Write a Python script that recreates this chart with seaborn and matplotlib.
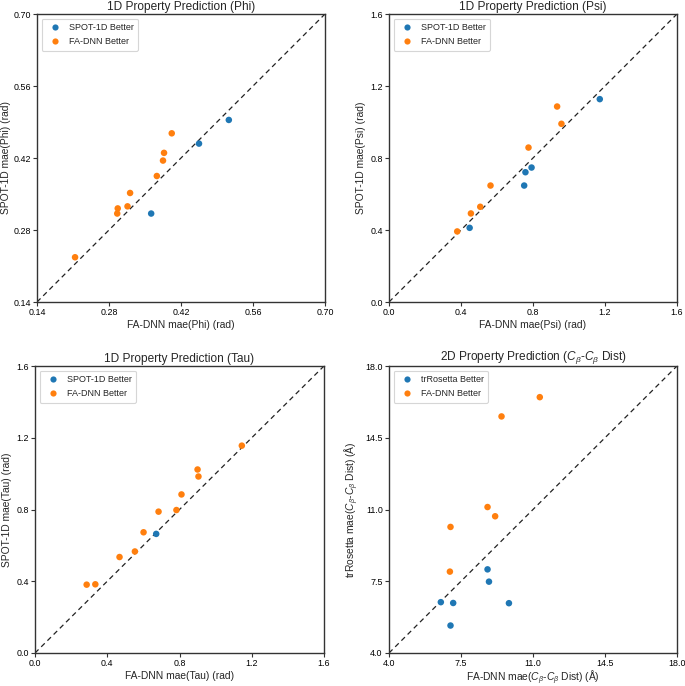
import matplotlib
matplotlib.use("Agg")
import matplotlib.pyplot as plt
import seaborn as sns
import pandas as pd

# ---- data ----
phi_fa_x = [0.214, 0.296, 0.297, 0.316, 0.321, 0.373, 0.385, 0.387, 0.402]
phi_fa_y = [0.227, 0.312, 0.322, 0.326, 0.352, 0.385, 0.415, 0.430, 0.468]
phi_sp_x = [0.362, 0.455, 0.513]
phi_sp_y = [0.312, 0.448, 0.494]

psi_fa_x = [0.379, 0.455, 0.507, 0.564, 0.775, 0.934, 0.958]
psi_fa_y = [0.392, 0.492, 0.529, 0.647, 0.858, 1.086, 0.990]
psi_sp_x = [0.448, 0.751, 0.758, 0.792, 1.171]
psi_sp_y = [0.412, 0.647, 0.721, 0.747, 1.127]

tau_fa_x = [0.286, 0.334, 0.468, 0.553, 0.601, 0.684, 0.783, 0.811, 0.900, 0.905, 1.145]
tau_fa_y = [0.381, 0.383, 0.535, 0.566, 0.673, 0.788, 0.797, 0.884, 1.023, 0.984, 1.156]
tau_sp_x = [0.671]
tau_sp_y = [0.664]

cb_fa_x = [6.96, 6.99, 8.79, 9.16, 9.47, 11.33]
cb_fa_y = [7.97, 10.15, 11.12, 10.67, 15.54, 16.48]
cb_tr_x = [6.52, 7.12, 6.99, 8.79, 8.86, 9.83]
cb_tr_y = [6.48, 6.44, 5.34, 8.08, 7.48, 6.43]

phi_ticks = [0.14, 0.28, 0.42, 0.56, 0.70]
psi_ticks = [0.0, 0.4, 0.8, 1.2, 1.6]
tau_ticks = [0.0, 0.4, 0.8, 1.2, 1.6]
cb_ticks = [4.0, 7.5, 11.0, 14.5, 18.0]

sns.set_style("ticks")
plt.rcParams['font.family'] = ['Liberation Sans', 'DejaVu Sans']
plt.rcParams['mathtext.fontset'] = 'custom'
plt.rcParams['mathtext.it'] = 'Liberation Sans:italic'
plt.rcParams['mathtext.rm'] = 'Liberation Sans'

fig = plt.figure(figsize=(6.85, 6.86), dpi=100)
W, H = 685, 686
def pos(l, t, r, b):
    return [l / W, 1 - b / H, (r - l) / W, (b - t) / H]

panels = [
    (pos(37, 14, 325, 302), phi_sp_x, phi_sp_y, phi_fa_x, phi_fa_y, "SPOT-1D Better", phi_ticks,
     "1D Property Prediction (Phi)", "FA-DNN mae(Phi) (rad)", "SPOT-1D mae(Phi) (rad)", "{:.2f}", 2, 1.5),
    (pos(389, 14, 677, 302), psi_sp_x, psi_sp_y, psi_fa_x, psi_fa_y, "SPOT-1D Better", psi_ticks,
     "1D Property Prediction (Psi)", "FA-DNN mae(Psi) (rad)", "SPOT-1D mae(Psi) (rad)", "{:.1f}", 2, 3),
    (pos(35, 366, 324, 653), tau_sp_x, tau_sp_y, tau_fa_x, tau_fa_y, "SPOT-1D Better", tau_ticks,
     "1D Property Prediction (Tau)", "FA-DNN mae(Tau) (rad)", "SPOT-1D mae(Tau) (rad)", "{:.1f}", 2, 3),
    (pos(389, 366, 677, 653), cb_tr_x, cb_tr_y, cb_fa_x, cb_fa_y, "trRosetta Better", cb_ticks,
     r"2D Property Prediction ($C_{\beta}$-$C_{\beta}$ Dist)",
     r"FA-DNN mae($C_{\beta}$-$C_{\beta}$ Dist) (Å)",
     r"trRosetta mae($C_{\beta}$-$C_{\beta}$ Dist) (Å)", "{:.1f}", 0, 3),
]

pal = sns.color_palette("tab10")
for (p, sx, sy, fx, fy, slabel, ticks, title, xl, yl, fmt, xlp, ylp) in panels:
    ax = fig.add_axes(p)
    df = pd.DataFrame({
        "x": list(sx) + list(fx),
        "y": list(sy) + list(fy),
        "g": [slabel] * len(sx) + ["FA-DNN Better"] * len(fx),
    })
    lo, hi = ticks[0], ticks[-1]
    ax.plot([lo, hi], [lo, hi], ls=(0, (4, 3)), color="#222222", lw=0.9, zorder=1)
    sns.scatterplot(data=df, x="x", y="y", hue="g", hue_order=[slabel, "FA-DNN Better"],
                    palette=[pal[0], pal[1]], s=22, edgecolor="none", ax=ax, zorder=3)
    ax.set_xlim(lo, hi)
    ax.set_ylim(lo, hi)
    ax.set_xticks(ticks)
    ax.set_yticks(ticks)
    ax.set_xticklabels([fmt.format(t) for t in ticks], fontsize=6.4)
    ax.set_yticklabels([fmt.format(t) for t in ticks], fontsize=6.4)
    ax.set_title(title, fontsize=8.6, pad=3)
    ax.set_xlabel(xl, fontsize=7.4, labelpad=xlp)
    ax.set_ylabel(yl, fontsize=7.4, labelpad=ylp)
    ax.tick_params(length=3, width=0.8, pad=1.5, colors="#333333", labelcolor="black")
    for s in ax.spines.values():
        s.set_color("#333333")
        s.set_linewidth(1.0)
    leg = ax.legend(loc="upper left", fontsize=6.5, frameon=True, handletextpad=0.5,
                    borderpad=0.5, labelspacing=0.55, markerscale=0.95)
    leg.get_frame().set_edgecolor("#cccccc")
    leg.get_frame().set_linewidth(0.8)

fig.savefig("out.png", dpi=100)
